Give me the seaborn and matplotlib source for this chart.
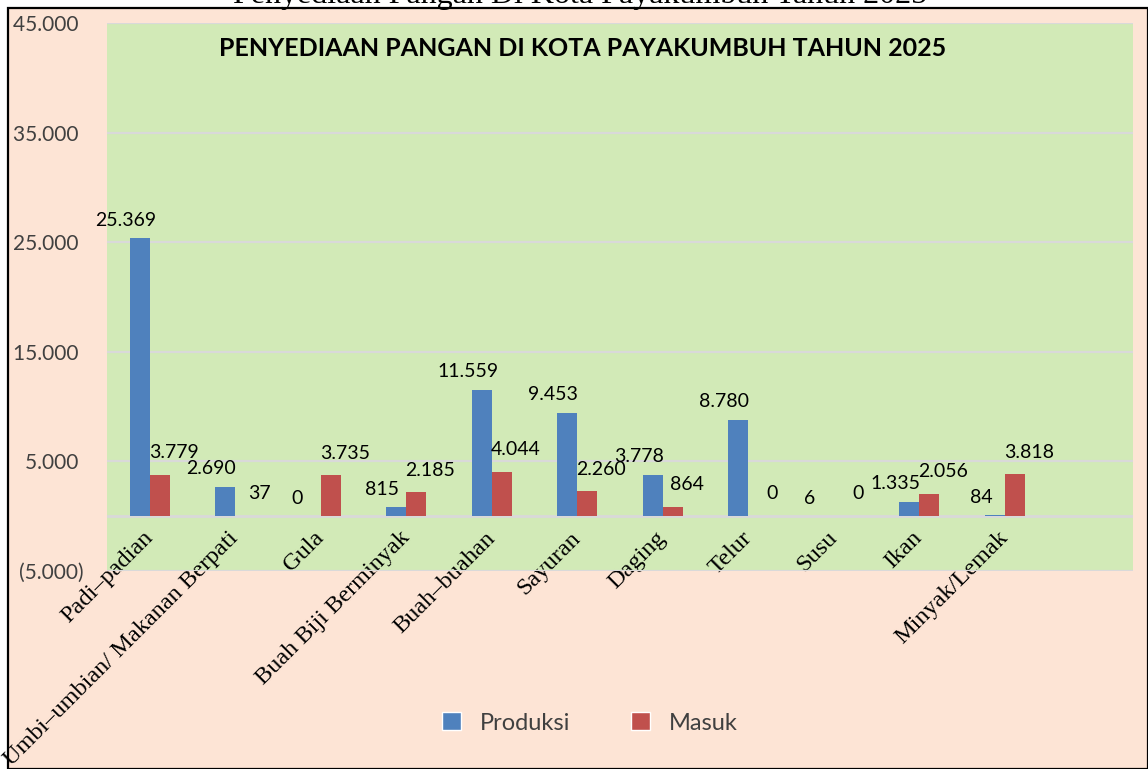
import pandas as pd
import numpy as np
import matplotlib
matplotlib.use("Agg")
import matplotlib.pyplot as plt
import matplotlib.ticker as mticker
from matplotlib.patches import Rectangle, Patch
import seaborn as sns

# data
kategori = ['Padi–padian', 'Umbi–umbian/ Makanan Berpati', 'Gula', 'Buah Biji Berminyak',
            'Buah–buahan', 'Sayuran', 'Daging', 'Telur', 'Susu', 'Ikan', 'Minyak/Lemak']
produksi = [25369, 2690, 0, 815, 11559, 9453, 3778, 8780, 6, 1335, 84]
masuk = [3779, 37, 3735, 2185, 4044, 2260, 864, 0, 0, 2056, 3818]
seri = ['Produksi', 'Masuk']
y_ticks = [-5000, 5000, 15000, 25000, 35000, 45000]

df = pd.DataFrame({
    'Kategori': kategori * 2,
    'Seri': ['Produksi'] * len(kategori) + ['Masuk'] * len(kategori),
    'Nilai': produksi + masuk,
})

BLUE = '#4F81BD'
RED = '#C0504D'
GREEN = '#D2EAB7'
PEACH = '#FDE4D5'
GRID = '#D9D9D9'
SANS = ['Lato', 'DejaVu Sans']
SERIF = ['Liberation Serif', 'DejaVu Serif']

sns.set_style("white")
plt.rcParams['font.family'] = SANS

fig = plt.figure(figsize=(11.48, 7.69), dpi=100)
fig.patch.set_facecolor('white')
fig.patches.append(Rectangle((8 / 1148, 0), 1 - 8 / 1148, 1 - 8 / 769, transform=fig.transFigure,
                             facecolor=PEACH, edgecolor='black', linewidth=1.6, zorder=-5))

ax = fig.add_axes([107 / 1148, 1 - 571 / 769, 1026 / 1148, 548 / 769])
ax.set_zorder(1)
ax.set_facecolor(GREEN)

sns.barplot(data=df, x='Kategori', y='Nilai', hue='Seri', hue_order=seri,
            palette=[BLUE, RED], saturation=1, width=0.47, gap=0, ax=ax, legend=False,
            linewidth=0, zorder=3)

# one empty slot after Minyak/Lemak, like in the reference
ax.set_xlim(-0.5, len(kategori) + 0.5)
ax.set_ylim(-5000, 45000)
ax.set_yticks(y_ticks)
ax.yaxis.set_major_formatter(mticker.FuncFormatter(
    lambda v, p: f"({abs(v):,.0f})".replace(',', '.') if v < 0 else f"{v:,.0f} ".replace(',', '.')))
ax.grid(axis='y', color=GRID, linewidth=1.6, zorder=0)
ax.axhline(0, color=GRID, linewidth=2, zorder=2)
ax.set_axisbelow(True)
for s in ax.spines.values():
    s.set_visible(False)

ax.tick_params(axis='y', length=0, pad=17, labelsize=15, labelcolor='#404040')
ax.tick_params(axis='x', length=0, pad=-26)
ax.set_xticks(range(len(kategori)))
ax.set_xticklabels(kategori, rotation=45, ha='right', va='center', rotation_mode='anchor',
                   family=SERIF, fontsize=17.5, color='black')
ax.set_xlabel('')
ax.set_ylabel('')

# value labels (Excel style: blue a bit left, red a bit right)
for cont, dx, dy in [(ax.containers[0], -10, 13), (ax.containers[1], 10, 16)]:
    for bar in cont:
        h = bar.get_height()
        ax.annotate(f"{h:,.0f}".replace(',', '.'), (bar.get_x() + bar.get_width() / 2, h),
                    xytext=(dx, dy), textcoords='offset points', ha='center', va='center',
                    fontsize=14, color='black', zorder=5)

fig.text(583 / 1148, 1 - 48 / 769, 'PENYEDIAAN PANGAN DI KOTA PAYAKUMBUH TAHUN 2025',
         ha='center', va='center', fontsize=18, fontweight='bold', color='black')
fig.text(580 / 1148, 1 - 3 / 769, 'Penyediaan Pangan Di Kota Payakumbuh Tahun 2025',
         ha='center', va='baseline', fontsize=23, family=SERIF, color='black')

handles = [Patch(facecolor=BLUE, label='Produksi'), Patch(facecolor=RED, label='Masuk')]
fig.legend(handles=handles, loc='center', bbox_to_anchor=(590 / 1148, 1 - 723 / 769), ncol=2,
           frameon=False, fontsize=17, labelcolor='#404040', handlelength=0.8, handleheight=0.8,
           columnspacing=2.6, handletextpad=0.8)

fig.savefig('out.png', dpi=100, facecolor=fig.get_facecolor())
